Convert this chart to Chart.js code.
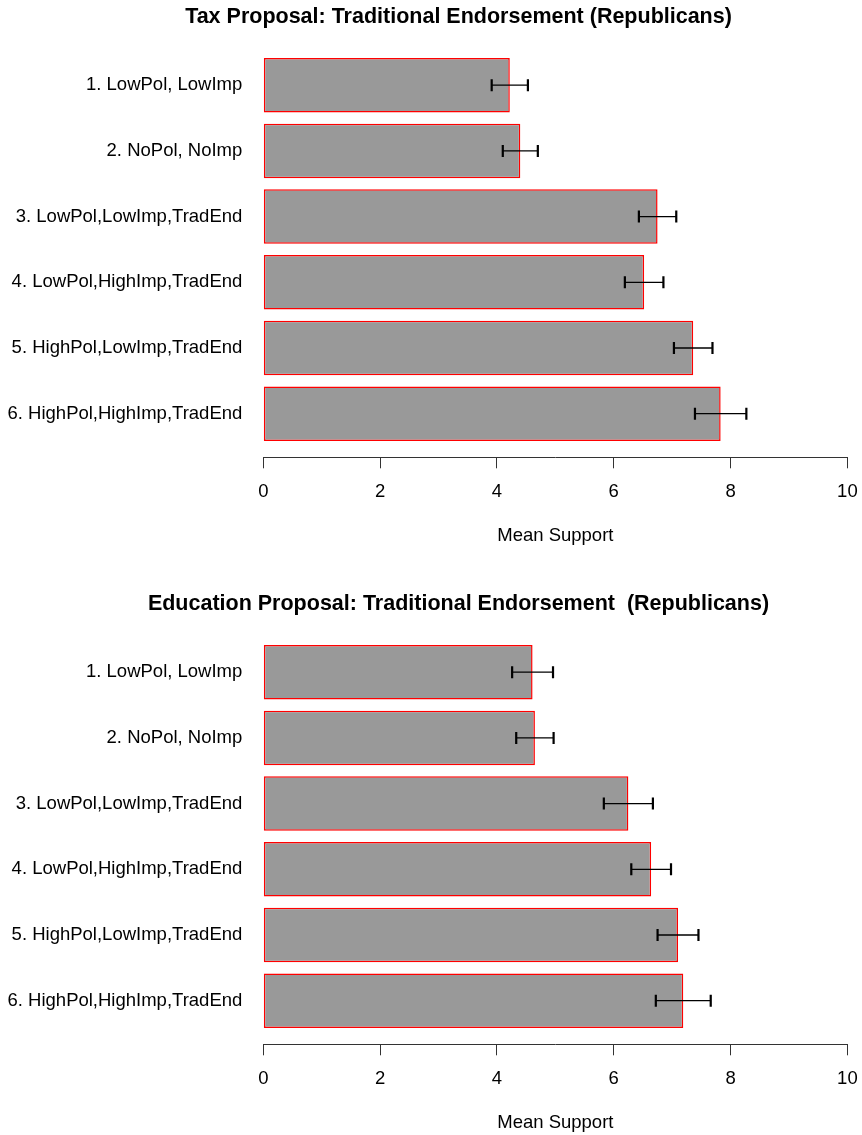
<!DOCTYPE html>
<html>
<head>
<meta charset="utf-8">
<title>Traditional Endorsement (Republicans)</title>
<script src="https://cdn.jsdelivr.net/npm/chart.js@4.4.1/dist/chart.umd.min.js"></script>
<style>
  html, body { margin: 0; padding: 0; background: #ffffff; }
  body { width: 862px; height: 1135px; position: relative; overflow: hidden; }
  .panel { position: absolute; left: 0; width: 870px; height: 548px; }
  #taxPanel { top: 0; }
  #eduPanel { top: 587px; }
  .panel-title {
    position: absolute; left: 55px; top: 0; width: 807px;
    height: 32px; line-height: 32px; text-align: center;
    font-family: 'Liberation Sans', Arial, Helvetica, sans-serif;
    font-weight: bold; font-size: 21.5px; color: #000000;
    white-space: pre; margin: 0;
  }
  canvas { position: absolute; left: 0; top: 0; }
</style>
</head>
<body>
<div class="panel" id="taxPanel">
  <canvas id="taxChart" width="870" height="548"></canvas>
  <div class="panel-title" id="taxTitle"></div>
</div>
<div class="panel" id="eduPanel">
  <canvas id="eduChart" width="870" height="548"></canvas>
  <div class="panel-title" id="eduTitle"></div>
</div>
<script>
// Experimental conditions (top to bottom)
const conditions = [
  '1. LowPol, LowImp',
  '2. NoPol, NoImp',
  '3. LowPol,LowImp,TradEnd',
  '4. LowPol,HighImp,TradEnd',
  '5. HighPol,LowImp,TradEnd',
  '6. HighPol,HighImp,TradEnd'
];

// Tax proposal: mean support and standard error per condition
const taxMeans = [4.22, 4.40, 6.75, 6.52, 7.36, 7.83];
const taxErrors = [0.31, 0.30, 0.32, 0.33, 0.33, 0.44];

// Education proposal: mean support and standard error per condition
const eduMeans = [4.61, 4.65, 6.25, 6.64, 7.10, 7.19];
const eduErrors = [0.35, 0.32, 0.42, 0.34, 0.35, 0.47];

const taxTitle = 'Tax Proposal: Traditional Endorsement (Republicans)';
const eduTitle = 'Education Proposal: Traditional Endorsement  (Republicans)';
const axisTitle = 'Mean Support';

const xMin = 0, xMax = 10, xStep = 2;

Chart.defaults.font.family = "'Liberation Sans', Arial, Helvetica, sans-serif";
Chart.defaults.color = '#000000';

// Draws horizontal error bars (mean ± error) with end caps
const errorBarPlugin = {
  id: 'errorBars',
  afterDatasetsDraw(chart, args, opts) {
    const { ctx, scales: { x, y } } = chart;
    const means = opts.means, errs = opts.errors;
    ctx.save();
    ctx.strokeStyle = '#000000';
    means.forEach((m, i) => {
      const py = y.getPixelForValue(i + 1);
      const x1 = x.getPixelForValue(m - errs[i]);
      const x2 = x.getPixelForValue(m + errs[i]);
      ctx.lineWidth = 1.3;
      ctx.beginPath();
      ctx.moveTo(x1, py);
      ctx.lineTo(x2, py);
      ctx.stroke();
      ctx.lineWidth = 2.2;
      ctx.beginPath();
      ctx.moveTo(x1, py - 6);
      ctx.lineTo(x1, py + 6);
      ctx.moveTo(x2, py - 6);
      ctx.lineTo(x2, py + 6);
      ctx.stroke();
    });
    ctx.restore();
  }
};

function makeChart(canvasId, titleId, titleText, means, errors) {
  document.getElementById(titleId).textContent = titleText;
  return new Chart(document.getElementById(canvasId), {
    type: 'bar',
    data: {
      datasets: [{
        data: means.map((m, i) => ({ x: m, y: i + 1 })),
        backgroundColor: '#999999',
        borderColor: '#ff0000',
        borderWidth: 1.5,
        borderSkipped: false,
        barPercentage: 0.83,
        categoryPercentage: 1
      }]
    },
    options: {
      indexAxis: 'y',
      responsive: false,
      animation: false,
      events: [],
      layout: { padding: { left: 0, right: 0, top: 46, bottom: 0 } },
      plugins: {
        legend: { display: false },
        tooltip: { enabled: false },
        title: { display: false },
        errorBars: { means: means, errors: errors }
      },
      scales: {
        x: {
          type: 'linear',
          min: xMin,
          max: xMax,
          ticks: {
            stepSize: xStep,
            color: '#000000',
            font: { size: 18.5 },
            padding: 12.3,
            maxRotation: 0
          },
          grid: {
            display: true,
            drawOnChartArea: false,
            drawTicks: true,
            tickLength: 11,
            color: '#333333',
            lineWidth: 1
          },
          border: { display: true, color: '#333333', width: 1 },
          title: {
            display: true,
            text: axisTitle,
            color: '#000000',
            font: { size: 18.5 },
            padding: { top: 9.5, bottom: 1.2 }
          }
        },
        y: {
          type: 'linear',
          reverse: true,
          offset: false,
          min: 0.403,
          max: 6.664,
          afterBuildTicks(scale) {
            scale.ticks = conditions.map((_, i) => ({ value: i + 1 }));
          },
          afterFit(scale) {
            scale.width = 263.3;
          },
          ticks: {
            autoSkip: false,
            color: '#000000',
            font: { size: 18.5 },
            padding: 21,
            callback: (v) => conditions[Math.round(v) - 1] ?? ''
          },
          grid: { display: false, drawTicks: false, offset: false },
          border: { display: false }
        }
      }
    },
    plugins: [errorBarPlugin]
  });
}

makeChart('taxChart', 'taxTitle', taxTitle, taxMeans, taxErrors);
makeChart('eduChart', 'eduTitle', eduTitle, eduMeans, eduErrors);
</script>
</body>
</html>
